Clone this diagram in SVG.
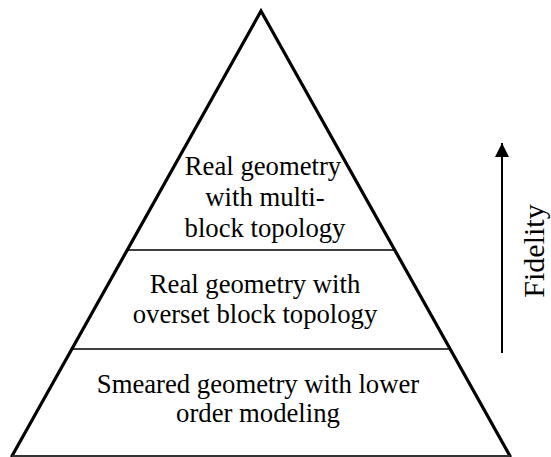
<svg xmlns="http://www.w3.org/2000/svg" width="551" height="457" viewBox="0 0 551 457">
  <style>
    .side { stroke: #000; stroke-width: 3.2; fill: none; stroke-linecap: round; }
    .rule { stroke: #000; stroke-width: 1.6; fill: none; }
    .base { stroke: #333; stroke-width: 2; fill: none; }
    .lbl { font-family: "Liberation Serif", "Times New Roman", serif; font-size: 26.7px; fill: #000; text-anchor: middle; }
    .axis { font-family: "Liberation Serif", "Times New Roman", serif; font-size: 30px; fill: #000; text-anchor: middle; }
  </style>
  <defs>
    <marker id="head" viewBox="0 0 10 10" refX="10" refY="5" markerWidth="14" markerHeight="15" markerUnits="userSpaceOnUse" orient="auto">
      <path d="M0,0 L10,5 L0,10 Z" fill="#000"/>
    </marker>
  </defs>
  <rect width="551" height="457" fill="#fff"/>

  <g id="pyramid">
    <polyline class="side" points="12,456 261,11 510,456"/>
    <line class="base" x1="12" y1="456" x2="510" y2="456"/>
    <line class="rule" x1="127" y1="250" x2="395" y2="250"/>
    <line class="rule" x1="72" y1="349" x2="450" y2="349"/>
  </g>

  <g id="tier-top">
    <text class="lbl" x="263" y="175">Real geometry</text>
    <text class="lbl" x="265" y="206">with multi-</text>
    <text class="lbl" x="265" y="237">block topology</text>
  </g>

  <g id="tier-middle">
    <text class="lbl" x="255" y="293">Real geometry with</text>
    <text class="lbl" x="255" y="323">overset block topology</text>
  </g>

  <g id="tier-bottom">
    <text class="lbl" x="258" y="393">Smeared geometry with lower</text>
    <text class="lbl" x="258" y="422">order modeling</text>
  </g>

  <g id="connectors">
    <line x1="502" y1="353" x2="502" y2="143" stroke="#000" stroke-width="2" marker-end="url(#head)"/>
  </g>

  <g id="fidelity">
    <text class="axis" transform="translate(544,251) rotate(-90)">Fidelity</text>
  </g>
</svg>
